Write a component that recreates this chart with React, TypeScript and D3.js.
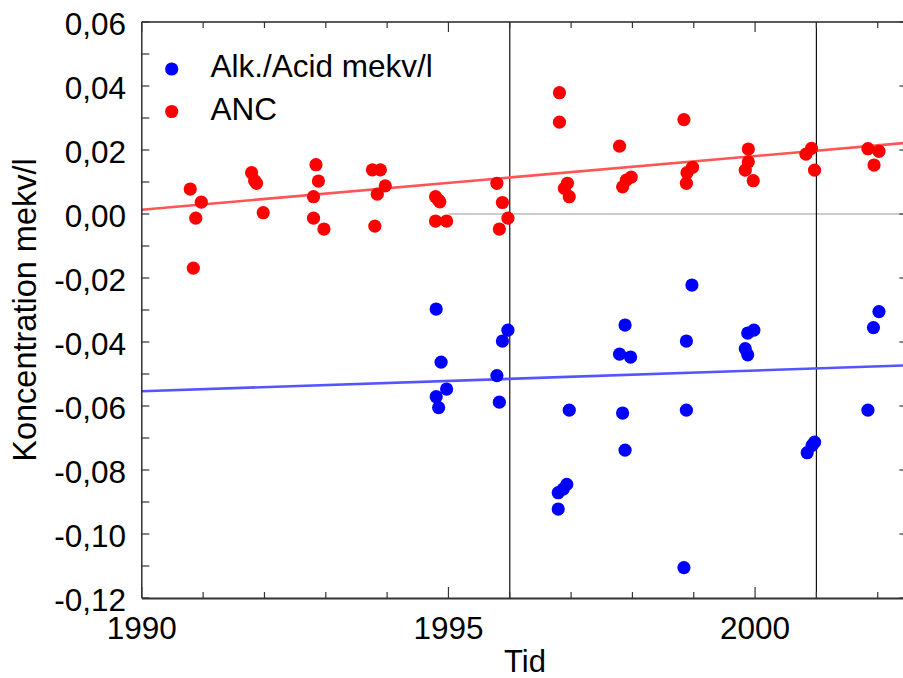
import React from "react";
import * as d3 from "d3";

const ancYears = [
  1990.79, 1990.97, 1990.88, 1990.84,
  1991.79, 1991.84, 1991.87, 1991.98,
  1992.84, 1992.88, 1992.8, 1992.8, 1992.97,
  1993.76, 1993.89, 1993.97, 1993.84, 1993.8,
  1994.79, 1994.84, 1994.86, 1994.79, 1994.97,
  1995.79, 1995.88, 1995.97, 1995.83,
  1996.81, 1996.81, 1996.94, 1996.89, 1996.97,
  1997.79, 1997.98, 1997.9, 1997.84,
  1998.84, 1998.98, 1998.89, 1998.88,
  1999.89, 1999.89, 1999.84, 1999.97,
  2000.83, 2000.92, 2000.97,
  2001.84, 2002.02, 2001.94,
];
const ancValues = [
  0.0078, 0.0037, -0.0013, -0.0169,
  0.0129, 0.0104, 0.0096, 0.0004,
  0.0154, 0.0103, 0.0054, -0.0013, -0.0047,
  0.0138, 0.0138, 0.0088, 0.0062, -0.0038,
  0.0054, 0.0043, 0.0038, -0.0022, -0.0022,
  0.0096, 0.0036, -0.0013, -0.0047,
  0.0379, 0.0287, 0.0096, 0.008, 0.0054,
  0.0212, 0.0115, 0.0106, 0.0085,
  0.0295, 0.0146, 0.0129, 0.0096,
  0.0203, 0.0163, 0.0137, 0.0104,
  0.0187, 0.0205, 0.0137,
  0.0204, 0.0196, 0.0153,
];

const alkYears = [
  1994.8, 1994.88, 1994.97, 1994.8, 1994.84,
  1995.97, 1995.88, 1995.79, 1995.83,
  1996.97, 1996.93, 1996.87, 1996.79, 1996.79,
  1997.88, 1997.79, 1997.97, 1997.84, 1997.88,
  1998.97, 1998.88, 1998.88, 1998.84,
  1999.98, 1999.88, 1999.84, 1999.88,
  2000.97, 2000.93, 2000.85,
  2002.02, 2001.93, 2001.84,
];
const alkValues = [
  -0.0297, -0.0463, -0.0547, -0.0571, -0.0605,
  -0.0363, -0.0397, -0.0505, -0.0588,
  -0.0613, -0.0845, -0.086, -0.0871, -0.0922,
  -0.0347, -0.0438, -0.0447, -0.0622, -0.0738,
  -0.0222, -0.0397, -0.0613, -0.1105,
  -0.0363, -0.0372, -0.0421, -0.044,
  -0.0713, -0.0723, -0.0746,
  -0.0305, -0.0355, -0.0613,
];

const trendYears = [1990, 2002.5];
const ancTrend = [0.00134, 0.0223];
const alkTrend = [-0.0554, -0.0473];

const xTickYears = d3.range(1990, 2003, 1);
const xLabelYears = [1990, 1995, 2000];
const yMinorTicks = d3.range(-0.12, 0.0601, 0.01);
const yLabelTicks = [0.06, 0.04, 0.02, 0, -0.02, -0.04, -0.06, -0.08, -0.1, -0.12];
const refYears = [1996, 2001];
const zeroLineStart = 1995;

const seriesNames = ["Alk./Acid mekv/l", "ANC"];
const seriesColors = ["#0000ff", "#ff0000"];
const trendColors = ["#5555ff", "#ff5555"];

const W = 903;
const H = 678;
const FONT = "'Liberation Sans', Arial, Helvetica, sans-serif";

export default function App() {
  const x = d3.scaleLinear().domain([1990, 2002.5]).range([141.8, 908.4]);
  const y = d3.scaleLinear().domain([-0.12, 0.06]).range([598, 22]);
  const [x0, x1] = x.range();
  const [yb, yt] = y.range();
  const fmt = (v: number) => d3.format(".2f")(Math.abs(v) < 1e-9 ? 0 : v).replace(".", ",").replace("−", "-");
  const line = d3.line<[number, number]>().x((d) => x(d[0])).y((d) => y(d[1]));
  const r = 6.6;

  return (
    <svg width={W} height={H} style={{ position: "absolute", left: 0, top: 0, background: "#fff" }} fontFamily={FONT}>
      <rect x={0} y={0} width={W} height={H} fill="#fff" />
      {/* zero line */}
      <line x1={x(zeroLineStart)} x2={x1} y1={y(0)} y2={y(0)} stroke="#999" strokeWidth={1.2} />
      {/* reference vertical lines */}
      {refYears.map((t) => (
        <line key={t} x1={x(t)} x2={x(t)} y1={yt} y2={yb} stroke="#111" strokeWidth={1.2} />
      ))}
      {/* trend lines */}
      <path d={line(trendYears.map((t, i) => [t, alkTrend[i]]) as any) || ""} stroke={trendColors[0]} strokeWidth={2.6} fill="none" />
      <path d={line(trendYears.map((t, i) => [t, ancTrend[i]]) as any) || ""} stroke={trendColors[1]} strokeWidth={2.6} fill="none" />
      {/* points */}
      {ancYears.map((t, i) => (
        <circle key={"a" + i} cx={x(t)} cy={y(ancValues[i])} r={r} fill={seriesColors[1]} />
      ))}
      {alkYears.map((t, i) => (
        <circle key={"b" + i} cx={x(t)} cy={y(alkValues[i])} r={r} fill={seriesColors[0]} />
      ))}
      {/* frame */}
      <line x1={x0} x2={x0} y1={yt} y2={yb} stroke="#222" strokeWidth={1.4} />
      <line x1={x0} x2={x1} y1={yt} y2={yt} stroke="#222" strokeWidth={1.4} />
      <line x1={x1} x2={x1} y1={yt} y2={yb} stroke="#222" strokeWidth={1.4} />
      <line x1={x0} x2={x1} y1={yb + 0.5} y2={yb + 0.5} stroke="#333" strokeWidth={2.2} />
      {/* x ticks */}
      {xTickYears.map((t) => {
        const major = xLabelYears.includes(t);
        return (
          <g key={"xt" + t}>
            <line x1={x(t)} x2={x(t)} y1={yb} y2={yb - (major ? 11 : 6)} stroke="#333" strokeWidth={1.2} />
            <line x1={x(t)} x2={x(t)} y1={yt} y2={yt + (major ? 10 : 6)} stroke="#333" strokeWidth={1.2} />
          </g>
        );
      })}
      {xLabelYears.map((t) => (
        <text key={"xl" + t} x={x(t)} y={639} textAnchor="middle" fontSize={31.5} fill="#000">
          {t}
        </text>
      ))}
      {/* y ticks */}
      {yMinorTicks.map((v, i) => (
        <line key={"yt" + i} x1={x0} x2={x0 + 7.5} y1={y(v)} y2={y(v)} stroke="#333" strokeWidth={1.2} />
      ))}
      {yLabelTicks.map((v, i) => (
        <line key={"yr" + i} x1={x1} x2={x1 - 9} y1={y(v)} y2={y(v)} stroke="#333" strokeWidth={1.2} />
      ))}
      {yLabelTicks.map((v, i) => (
        <text key={"yl" + i} x={126} y={y(v) + 13} textAnchor="end" fontSize={31.5} fill="#000">
          {fmt(v)}
        </text>
      ))}
      {/* axis titles */}
      <text x={525} y={672} textAnchor="middle" fontSize={31} fill="#000">Tid</text>
      <text transform={`translate(36,310) rotate(-90)`} textAnchor="middle" fontSize={32.5} fill="#000">
        Koncentration mekv/l
      </text>
      {/* legend */}
      {seriesNames.map((name, i) => (
        <g key={name}>
          <circle cx={171.7} cy={69 + i * 42.5} r={r} fill={seriesColors[i]} />
          <text x={210.5} y={77 + i * 43} fontSize={31.5} fill="#000">
            {name}
          </text>
        </g>
      ))}
    </svg>
  );
}
